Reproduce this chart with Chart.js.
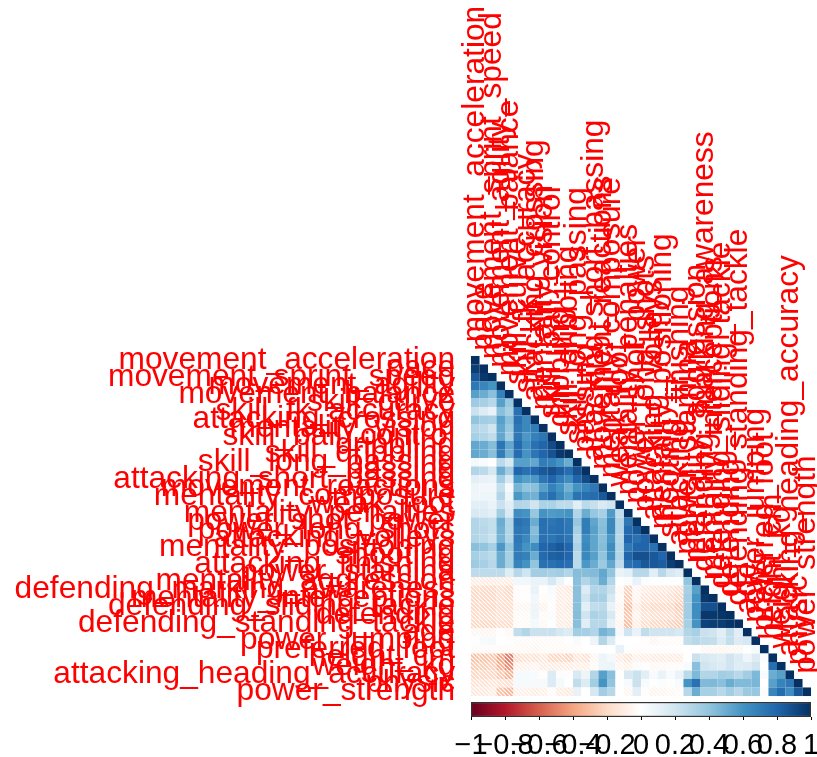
<!DOCTYPE html>
<html>
<head>
<meta charset="utf-8">
<script src="https://cdn.jsdelivr.net/npm/chart.js@4"></script>
<style>
  html, body { margin: 0; padding: 0; background: #fff; }
  #wrap { position: relative; width: 817px; height: 757px; overflow: hidden; }
  canvas { position: absolute; left: 0; }
</style>
</head>
<body>
<div id="wrap">
  <canvas id="corrChart" width="817" height="757" style="top:0"></canvas>
  <canvas id="barChart" width="817" height="61" style="top:696px"></canvas>
</div>
<script>
const variables = [
  "movement_acceleration", "pace", "movement_sprint_speed", "movement_agility", "movement_balance",
  "skill_curve", "skill_fk_accuracy", "attacking_crossing", "mentality_vision", "skill_ball_control",
  "dribbling", "skill_dribbling", "skill_long_passing", "passing", "attacking_short_passing",
  "movement_reactions", "mentality_composure", "weak_foot", "mentality_penalties", "power_shot_power",
  "power_long_shots", "attacking_volleys", "mentality_positioning", "shooting", "attacking_finishing",
  "power_stamina", "mentality_aggression", "defending_marking_awareness", "mentality_interceptions", "defending_sliding_tackle",
  "defending", "defending_standing_tackle", "age", "power_jumping", "preferred_foot",
  "height_cm", "weight_kg", "attacking_heading_accuracy", "physic", "power_strength"
];

// lower triangle
const corrRows = [
  [1],
  [.95,1],
  [.85,.97,1],
  [.72,.66,.6,1],
  [.55,.5,.42,.68,1],
  [.36,.33,.28,.55,.38,1],
  [.22,.15,.1,.42,.33,.75,1],
  [.4,.35,.33,.55,.42,.75,.65,1],
  [.3,.27,.2,.52,.38,.72,.65,.7,1],
  [.33,.3,.25,.52,.35,.72,.58,.68,.73,1],
  [.52,.5,.43,.73,.52,.78,.62,.75,.8,.9,1],
  [.52,.5,.42,.7,.48,.77,.6,.73,.8,.87,.97,1],
  [.05,.03,0,.27,.17,.55,.55,.52,.7,.67,.6,.5,1],
  [.3,.27,.18,.5,.35,.8,.75,.8,.85,.88,.83,.77,.88,1],
  [.12,.1,.09,.35,.18,.6,.55,.58,.73,.8,.7,.63,.8,.9,1],
  [.08,.06,.06,.24,.05,.47,.4,.42,.55,.68,.6,.48,.6,.67,.72,1],
  [.07,.07,.07,.3,.08,.58,.5,.48,.68,.76,.65,.55,.74,.76,.77,.85,1],
  [.12,.12,.09,.22,.13,.3,.28,.2,.32,.32,.26,.26,.13,.27,.23,.16,.2,1],
  [.17,.15,.12,.35,.16,.62,.6,.38,.6,.57,.58,.6,.3,.5,.38,.33,.57,.25,1],
  [.3,.27,.24,.5,.3,.75,.72,.5,.76,.73,.76,.72,.38,.7,.53,.42,.65,.3,.72,1],
  [.3,.28,.24,.48,.3,.72,.7,.43,.75,.75,.76,.73,.33,.7,.55,.43,.65,.3,.78,.85,1],
  [.3,.27,.22,.47,.3,.72,.65,.46,.75,.73,.77,.73,.28,.63,.53,.42,.58,.28,.8,.75,.8,1],
  [.42,.4,.33,.58,.38,.7,.6,.63,.8,.82,.85,.8,.32,.65,.53,.43,.63,.3,.72,.8,.8,.75,1],
  [.33,.3,.27,.5,.33,.7,.68,.5,.78,.82,.83,.8,.27,.65,.55,.4,.6,.3,.8,.88,.88,.85,.8,1],
  [.36,.33,.28,.5,.34,.67,.6,.4,.75,.75,.78,.76,.27,.58,.5,.37,.52,.26,.75,.78,.85,.85,.83,.95,1],
  [.26,.26,.26,.26,.14,.28,.2,.35,.35,.33,.35,.3,.43,.43,.44,.52,.4,.09,.12,.28,.28,.13,.28,.18,.14,1],
  [-.1,-.1,-.1,-.1,-.1,.06,.06,.09,.09,.18,.08,0,.42,.3,.37,.5,.3,.01,.02,.1,.02,.01,.01,.01,.01,.4,1],
  [-.2,-.2,-.2,-.17,-.2,-.02,-.02,.09,-.01,.03,-.1,-.12,.42,.15,.3,.3,.22,-.04,-.22,-.05,-.1,-.12,-.12,-.13,-.16,.33,.55,1],
  [-.2,-.2,-.2,-.17,-.19,-.02,-.01,.06,-.03,.02,-.1,-.1,.42,.2,.33,.33,.17,-.03,-.25,-.06,-.13,-.15,-.15,-.17,-.2,.35,.6,.97,1],
  [-.2,-.2,-.2,-.18,-.18,-.05,-.05,.07,-.07,-.02,-.1,-.12,.42,.12,.25,.27,.1,-.05,-.3,-.1,-.18,-.2,-.2,-.2,-.25,.35,.62,.88,.88,1],
  [-.18,-.18,-.18,-.16,-.17,-.03,-.03,.07,-.03,.02,-.1,-.1,.43,.2,.32,.3,.17,-.04,-.27,-.07,-.15,-.17,-.17,-.18,-.22,.35,.62,.97,.97,.98,1],
  [-.2,-.2,-.2,-.18,-.18,-.03,-.03,.05,-.04,.01,-.1,-.11,.42,.13,.28,.28,.11,-.06,-.3,-.09,-.18,-.2,-.2,-.22,-.24,.33,.6,.93,.95,.95,.98,1],
  [-.05,-.05,-.05,-.01,-.04,.25,.3,.22,.22,.22,.18,.15,.35,.33,.3,.47,.42,.04,.2,.1,.25,.2,.2,.2,.17,.3,.33,.22,.2,.13,.25,.13,1],
  [.01,.03,.04,0,-.01,-.03,-.03,-.03,-.03,-.03,-.03,.01,.03,0,.08,.3,.15,.01,0,0,-.02,-.05,-.03,-.03,-.03,.25,.28,.25,.24,.15,.24,.15,.18,1],
  [-.03,-.03,-.03,-.03,-.03,-.03,-.04,-.05,-.03,-.03,-.03,-.03,-.03,0,0,0,0,.1,.01,-.02,-.01,-.01,-.01,-.01,-.01,0,0,-.05,-.05,-.05,-.05,-.05,.01,.04,1],
  [-.28,-.28,-.26,-.38,-.5,-.17,-.15,-.15,-.12,-.2,-.2,-.22,-.13,-.15,-.05,.08,.05,-.1,-.14,-.08,-.09,-.1,-.1,-.1,-.1,0,.22,.17,.15,.13,.2,.15,.07,.15,.02,1],
  [-.25,-.24,-.23,-.35,-.45,-.08,-.08,-.06,-.1,-.1,-.1,-.1,-.08,-.08,-.03,.07,.08,-.05,-.08,.02,-.02,-.04,-.04,-.03,-.03,.03,.42,.2,.17,.15,.2,.14,.15,.2,.01,.76,1],
  [-.2,-.2,-.2,-.25,-.33,.04,.04,.03,-.02,.15,.02,-.02,.17,.08,.3,.55,.42,.01,.17,.22,.12,.03,.09,.03,.09,.27,.45,.3,.3,.35,.33,.28,.35,.45,.03,.5,.55,1],
  [-.15,-.15,-.13,-.15,-.17,.04,.04,.04,.04,.15,.05,0,.25,.15,.35,.6,.4,0,.03,.22,.03,.01,.02,.01,.03,.6,.75,.44,.45,.42,.5,.44,.44,.46,0,.55,.67,.72,1],
  [-.12,-.12,-.1,-.28,-.32,-.08,-.08,-.1,-.08,-.03,-.1,-.12,.1,0,.18,.35,.28,0,-.05,.12,-.02,-.06,-.05,-.04,-.03,.28,.5,.33,.33,.28,.35,.28,.37,.38,.02,.66,.77,.63,.85,1]
];

const colorStops = ["#67001F","#B2182B","#D6604D","#F4A582","#FDDBC7","#FFFFFF","#D1E5F0","#92C5DE","#4393C3","#2166AC","#053061"];
const barTickLabels = ["\u22121","\u22120.8","\u22120.6","\u22120.4","\u22120.2","0","0.2","0.4","0.6","0.8","1"];

const labelFont = "Liberation Sans";
const labelSize = 31.7;

function colorFor(v) {
    const pos = (v + 1) * 5;
    const i = Math.min(Math.floor(pos), 9);
    const t = pos - i;
    const a = colorStops[i], b = colorStops[i + 1];
    const mix = [1, 3, 5].map(k => {
        const p = parseInt(a.substr(k, 2), 16), q = parseInt(b.substr(k, 2), 16);
        return Math.round(p + (q - p) * t);
    });
    return `rgb(${mix[0]},${mix[1]},${mix[2]})`;
}

// negative cells came out hatched in the original, so use a striped tile
function hatchFor(v) {
    const tile = document.createElement("canvas");
    tile.width = 4;
    tile.height = 4;
    const c = tile.getContext("2d");
    c.fillStyle = "#fff";
    c.fillRect(0, 0, 4, 4);
    c.strokeStyle = colorFor(v * 1.1);
    c.lineWidth = 1.7;
    c.beginPath();
    c.moveTo(-1, -1); c.lineTo(5, 5);
    c.moveTo(-1, 3); c.lineTo(1, 5);
    c.moveTo(3, -1); c.lineTo(5, 1);
    c.stroke();
    return c.createPattern(tile, "repeat");
}

const cells = [];
const cellColors = [];
corrRows.forEach((row, r) => {
    row.forEach((v, c) => {
        cells.push({ x: variables[c], y: variables[r] });
        cellColors.push(v < 0 ? hatchFor(v) : colorFor(v));
    });
});

// column names sit along the diagonal, just above each column's top cell
const diagonalLabels = {
    id: "diagonalLabels",
    afterDatasetsDraw(chart) {
        const { ctx, scales } = chart;
        ctx.save();
        ctx.fillStyle = "#f00";
        ctx.font = `${labelSize}px "${labelFont}"`;
        ctx.textAlign = "left";
        ctx.textBaseline = "middle";
        variables.forEach(name => {
            ctx.save();
            ctx.translate(scales.x.getPixelForValue(name), scales.y.getPixelForValue(name) - 18);
            ctx.rotate(-Math.PI / 2);
            ctx.fillText(name, 0, 0);
            ctx.restore();
        });
        ctx.restore();
    }
};

new Chart(document.getElementById("corrChart"), {
    type: "scatter",
    data: {
        datasets: [{
            data: cells,
            pointStyle: "rect",
            pointRadius: ctx => ctx.chart.scales.y.height / variables.length * Math.SQRT1_2 + 0.05,
            pointBorderWidth: 0,
            pointBackgroundColor: cellColors,
            pointHoverRadius: 0
        }]
    },
    plugins: [diagonalLabels],
    options: {
        responsive: false,
        animation: false,
        events: [],
        layout: { padding: { right: 6, bottom: 61 } },
        plugins: { legend: { display: false }, tooltip: { enabled: false } },
        scales: {
            x: {
                type: "category",
                labels: variables,
                offset: true,
                position: "top",
                grid: { display: false, drawTicks: false },
                border: { display: false },
                ticks: { display: false },
                afterFit: s => { s.height = 356; s.paddingLeft = 0; s.paddingRight = 0; }
            },
            y: {
                type: "category",
                labels: variables,
                offset: true,
                grid: { display: false, drawTicks: false },
                border: { display: false },
                ticks: {
                    autoSkip: false,
                    color: "#f00",
                    padding: 16,
                    font: { family: labelFont, size: labelSize }
                },
                afterFit: s => { s.width = 471; s.paddingTop = 0; s.paddingBottom = 0; }
            }
        }
    }
});

new Chart(document.getElementById("barChart"), {
    type: "bar",
    data: {
        labels: ["scale"],
        datasets: [{
            data: [[-1, 1]],
            barPercentage: 1,
            categoryPercentage: 1,
            borderWidth: 1.5,
            borderColor: "#333",
            borderSkipped: false,
            backgroundColor: ctx => {
                const area = ctx.chart.chartArea;
                if (!area) return "#fff";
                const g = ctx.chart.ctx.createLinearGradient(area.left, 0, area.right, 0);
                colorStops.forEach((col, i) => g.addColorStop(i / (colorStops.length - 1), col));
                return g;
            }
        }]
    },
    options: {
        indexAxis: "y",
        responsive: false,
        animation: false,
        events: [],
        layout: { padding: { left: 471, right: 6, top: 6 } },
        plugins: { legend: { display: false }, tooltip: { enabled: false } },
        scales: {
            y: { display: false },
            x: {
                type: "linear",
                min: -1,
                max: 1,
                grid: { drawOnChartArea: false, drawTicks: true, tickLength: 3, color: "#000" },
                border: { display: false },
                ticks: {
                    stepSize: 0.2,
                    autoSkip: false,
                    maxRotation: 0,
                    padding: 9,
                    color: "#000",
                    font: { family: labelFont, size: 29 },
                    callback: (value, index) => barTickLabels[index]
                },
                afterFit: s => { s.height = 40; s.paddingLeft = 0; s.paddingRight = 0; }
            }
        }
    }
});
</script>
</body>
</html>
